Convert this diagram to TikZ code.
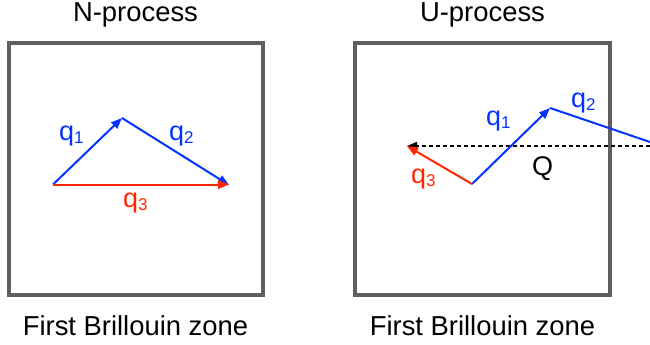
\documentclass[tikz,border=0pt]{standalone}
\usepackage{fontspec}
\setmainfont{Liberation Sans}
\usetikzlibrary{arrows.meta}
\definecolor{zonegray}{RGB}{94,94,94}
\definecolor{qblue}{RGB}{4,51,255}
\definecolor{qred}{RGB}{255,38,0}
\newcommand{\qlab}[1]{q\raisebox{-3pt}{\fontsize{17}{17}\selectfont #1}}
\begin{document}
\begin{tikzpicture}[x=1pt,y=-1pt,
  zone/.style={draw=zonegray,line width=4pt},
  vec/.style={line width=2pt,-{Triangle[length=11pt,width=8.5pt]}},
  bluevec/.style={vec,qblue},
  redvec/.style={vec,qred},
  qvec/.style={line width=1.6pt,dash pattern=on 4pt off 3pt,-{Triangle[length=10pt,width=8pt]}},
  title/.style={font=\fontsize{27.4}{31}\selectfont,anchor=base,inner sep=0pt},
  lab/.style={font=\fontsize{27}{31}\selectfont,anchor=base west,inner sep=0pt}]
\useasboundingbox (0,0) rectangle (650,345);
% boxes
\draw[zone] (9.3,43) rectangle (263,295);
\draw[zone] (355,43) rectangle (610,295);
% titles
\node[title] (tN) at (135.5,21.7) {N-process};
\node[title] (tU) at (482.5,21.7) {U-process};
\node[title] (bN) at (135.5,335.7) {First Brillouin zone};
\node[title] (bU) at (482.5,335.7) {First Brillouin zone};
% N-process
\coordinate (a) at (53,184.5);
\coordinate (b) at (122,118);
\coordinate (c) at (229,185);
\coordinate (c3) at (229,184.5);
\draw[bluevec] (a) -- (b);
\draw[bluevec] (b) -- (c);
\draw[redvec] (a) -- (c3);
\node[lab,qblue] (lq1) at (59,140) {\qlab{1}};
\node[lab,qblue] (lq2) at (169,140) {\qlab{2}};
\node[lab,qred] (lq3) at (123,207) {\qlab{3}};
% U-process
\coordinate (d) at (472,184);
\coordinate (e) at (550,108);
\coordinate (f) at (650,142);
\coordinate (g) at (650,146);
\coordinate (h) at (407,146);
\draw[qvec] (g) -- (h);
\draw[bluevec] (d) -- (e);
\draw[bluevec,-] (e) -- (f);
\draw[redvec] (d) -- (h);
\node[lab,qblue] (uq1) at (486,125) {\qlab{1}};
\node[lab,qblue] (uq2) at (571,107) {\qlab{2}};
\node[lab] (uQ) at (532,175.5) {Q};
\node[lab,qred] (uq3) at (411,183) {\qlab{3}};
\end{tikzpicture}
\end{document}
